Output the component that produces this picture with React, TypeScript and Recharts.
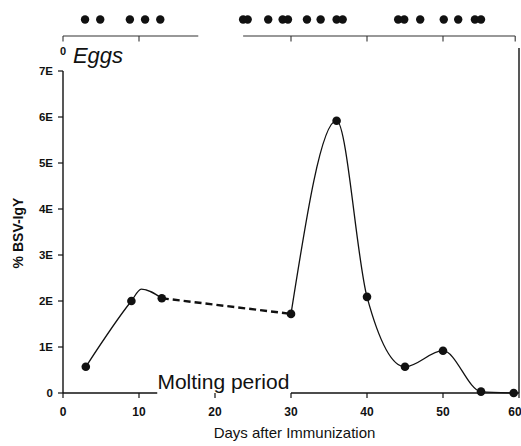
import React from 'react';
import {
  ComposedChart,
  Line,
  Scatter,
  XAxis,
  YAxis,
  ReferenceLine,
  ReferenceDot,
} from 'recharts';

// ---- data ----
const earlyDays = [3, 9, 10.3, 13];
const earlyValues = [0.57, 2.0, 2.26, 2.06];
const gapDays = [13, 30];
const gapValues = [2.06, 1.72];
const lateDays = [30, 36, 40, 45, 50, 55, 59.3];
const lateValues = [1.72, 5.92, 2.09, 0.57, 0.92, 0.03, 0.0];
const sampleDays = [3, 9, 13, 30, 36, 40, 45, 50, 55, 59.3];
const sampleValues = [0.57, 2.0, 2.06, 1.72, 5.92, 2.09, 0.57, 0.92, 0.03, 0.0];
const eggDays = [
  2.9, 4.9, 8.8, 10.8, 12.8, 23.7, 24.3, 27.0, 28.9, 29.6, 32.1, 33.9, 36.0,
  36.8, 44.1, 44.9, 47.0, 50.1, 52.0, 54.2, 55.0,
];
const eggLevel = 8.12;

const xTicks = [0, 10, 20, 30, 40, 50, 60];
const yTicks = [0, 1, 2, 3, 4, 5, 6, 7];
const yTickLabels = ['0', '1E', '2E', '3E', '4E', '5E', '6E', '7E'];
const topTicks = [0, 10, 30, 40, 50, 59.5];
const topAxisRuns = [
  [0, 17.8],
  [23.7, 59.5],
];
const bottomAxisRuns = [
  [0, 12.4],
  [30, 60],
];
const topAxisLevel = 7.76;
const topTickEnd = 7.64;
const yMax = 8.4;

const toPts = (xs: number[], ys: number[]) => xs.map((d, i) => ({ day: d, v: ys[i] }));
const earlyData = toPts(earlyDays, earlyValues);
const gapData = toPts(gapDays, gapValues);
const lateData = toPts(lateDays, lateValues);
const sampleData = toPts(sampleDays, sampleValues);
const eggData = eggDays.map((d) => ({ day: d, v: eggLevel }));

const FONT = '"Liberation Sans", Arial, sans-serif';
const INK = '#111';

const dotShape = (r: number) => (p: any) =>
  p.cx == null ? <g /> : <circle cx={p.cx} cy={p.cy} r={r} fill={INK} />;

export default function App() {
  return (
    <div style={{ position: 'absolute', left: 0, top: 0, background: '#fff' }}>
      <ComposedChart
        width={521}
        height={446}
        margin={{ top: 6.6, right: 2, bottom: 0, left: 0 }}
        style={{ fontFamily: FONT }}
      >
        <XAxis
          dataKey="day"
          type="number"
          domain={[0, 60]}
          ticks={xTicks}
          axisLine={false}
          tickSize={5}
          tickMargin={9}
          height={53}
          tickLine={{ stroke: INK, strokeWidth: 1.2 }}
          tick={{ fontSize: 12, fontWeight: 'bold', fill: INK, fontFamily: FONT }}
          label={() => (
            <text
              x={294.5}
              y={438}
              textAnchor="middle"
              fontSize={15}
              fill={INK}
              fontFamily={FONT}
            >
              Days after Immunization
            </text>
          )}
        />
        <YAxis
          type="number"
          domain={[0, yMax]}
          ticks={yTicks}
          tickFormatter={(v: number) => yTickLabels[yTicks.indexOf(v)]}
          axisLine={false}
          width={63}
          tickSize={5}
          tickMargin={5}
          tickLine={{ stroke: INK, strokeWidth: 1.2 }}
          tick={{ fontSize: 11.5, fontWeight: 'bold', fill: INK, fontFamily: FONT }}
          label={() => (
            <text
              transform="rotate(-90)"
              x={-233}
              y={23}
              textAnchor="middle"
              fontSize={14}
              fontWeight="bold"
              fill={INK}
              fontFamily={FONT}
            >
              % BSV-IgY
            </text>
          )}
        />

        {/* axis lines */}
        <ReferenceLine
          segment={[
            { x: 0, y: 0 },
            { x: 0, y: 7 },
          ]}
          stroke={INK}
          strokeWidth={1.4}
        />
        <ReferenceLine
          segment={[
            { x: 60, y: 0 },
            { x: 60, y: 7.5 },
          ]}
          stroke={INK}
          strokeWidth={1.4}
        />
        {bottomAxisRuns.map(([a, b], i) => (
          <ReferenceLine
            key={'b' + i}
            segment={[
              { x: a, y: 0 },
              { x: b, y: 0 },
            ]}
            stroke={INK}
            strokeWidth={1.4}
          />
        ))}
        {topAxisRuns.map(([a, b], i) => (
          <ReferenceLine
            key={'t' + i}
            segment={[
              { x: a, y: topAxisLevel },
              { x: b, y: topAxisLevel },
            ]}
            stroke="#333"
            strokeWidth={1.1}
          />
        ))}
        {topTicks.map((d) => (
          <ReferenceLine
            key={'tt' + d}
            segment={[
              { x: d, y: topAxisLevel },
              { x: d, y: topTickEnd },
            ]}
            stroke="#333"
            strokeWidth={1.1}
          />
        ))}

        <Line
          data={earlyData}
          dataKey="v"
          type="monotone"
          stroke={INK}
          strokeWidth={1.3}
          dot={false}
          activeDot={false}
          isAnimationActive={false}
        />
        <Line
          data={gapData}
          dataKey="v"
          type="linear"
          stroke={INK}
          strokeWidth={2.4}
          strokeDasharray="7 4"
          dot={false}
          activeDot={false}
          isAnimationActive={false}
        />
        <Line
          data={lateData}
          dataKey="v"
          type="monotone"
          stroke={INK}
          strokeWidth={1.3}
          dot={false}
          activeDot={false}
          isAnimationActive={false}
        />
        <Scatter data={sampleData} dataKey="v" shape={dotShape(4.3)} isAnimationActive={false} />
        <Scatter data={eggData} dataKey="v" shape={dotShape(4.2)} isAnimationActive={false} />

        {/* texts */}
        <ReferenceDot
          x={0}
          y={7.39}
          r={0}
          fill="none"
          stroke="none"
          label={(p: any) => (
            <text
              x={p.viewBox.x}
              y={p.viewBox.y + 2}
              textAnchor="middle"
              fontSize={11}
              fontWeight="bold"
              fill={INK}
              fontFamily={FONT}
            >
              0
            </text>
          )}
        />
        <ReferenceDot
          x={1.3}
          y={7.17}
          r={0}
          fill="none"
          stroke="none"
          label={(p: any) => (
            <text
              x={p.viewBox.x}
              y={p.viewBox.y}
              textAnchor="start"
              fontSize={22}
              fontStyle="italic"
              fill={INK}
              fontFamily={FONT}
            >
              Eggs
            </text>
          )}
        />
        <ReferenceDot
          x={21.1}
          y={0.087}
          r={0}
          fill="none"
          stroke="none"
          label={(p: any) => (
            <text
              x={p.viewBox.x}
              y={p.viewBox.y}
              textAnchor="middle"
              fontSize={21}
              fill={INK}
              fontFamily={FONT}
            >
              Molting period
            </text>
          )}
        />
      </ComposedChart>
    </div>
  );
}
